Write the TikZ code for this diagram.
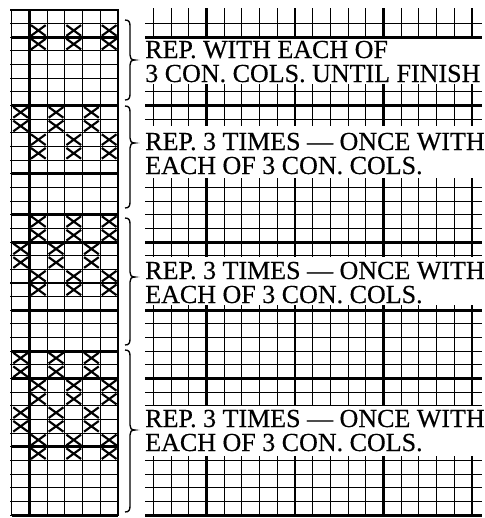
\documentclass[tikz,border=0pt]{standalone}
\usepackage{fontspec}
\setmainfont{Liberation Serif}
\newfontfamily\notefont{Liberation Serif}[FakeBold=0.4]
\usepackage{tikz}

\begin{document}
\begin{tikzpicture}[x=0.75pt, y=-0.75pt,
    gridline/.style={line width=0.8pt},
    boldline/.style={line width=2.2pt},
    xstitch/.style={line width=1.6pt},
    bracepath/.style={line width=1pt},
    chartnote/.style={anchor=base west, inner sep=0pt, font=\notefont\fontsize{19.5}{23}\selectfont}
]
    \useasboundingbox (0,0) rectangle (485,518);

    % Left chart
    \foreach \r in {0,...,37}
        \draw[gridline] (10,{10+13.65*\r}) -- (119,{10+13.65*\r});
    \foreach \c in {0,...,6}
        \draw[gridline] ({11.8+17.7*\c},10) -- ({11.8+17.7*\c},515);
    \foreach \r in {2,7,12,15,17,22,25,27,32,37}
        \draw[boldline] (11.8,{10+13.65*\r}) -- (118,{10+13.65*\r});
    \foreach \c in {1,6}
        \draw[boldline] ({11.8+17.7*\c},10) -- ({11.8+17.7*\c},515);

    % Stitches
    \foreach \r/\p in {1/1, 7/0, 9/1, 15/1, 17/0, 19/1, 25/0, 27/1, 29/0, 31/1}
        \foreach \dr in {0,1}
            \foreach \dc in {0,2,4}
                \draw[xstitch] ({13.3+17.7*(\p+\dc)},{11.5+13.65*(\r+\dr)}) -- ++(14.7,10.65)
                    ++(0,-10.65) -- ++(-14.7,10.65);

    % Right grid
    \foreach \r in {1,...,37}
        \draw[gridline] (145,{10+13.65*\r}) -- (482,{10+13.65*\r});
    \foreach \c in {8,...,26}
        \draw[gridline] ({11.8+17.7*\c},8) -- ({11.8+17.7*\c},515);
    \foreach \r in {2,7,12,17,22,27,32,37}
        \draw[boldline] (145,{10+13.65*\r}) -- (482,{10+13.65*\r});
    \foreach \c in {11,16,21,26}
        \draw[boldline] ({11.8+17.7*\c},8) -- ({11.8+17.7*\c},515);

    % Text panels
    \foreach \t/\b in {39/84, 126/178, 257/305, 406/456}
        \fill[white] (140,\t) rectangle (485,\b);

    % Braces
    \foreach \t/\m/\b in {20/60/100, 106/143/208, 218/277/345, 350/430/512}
        \draw[bracepath] (125,\t) .. controls (129,\t) and (130,{\t+2}) .. (130,{\t+6})
            -- (130,{\m-5}) .. controls (130,{\m-2}) and (131,\m) .. (135,\m)
            .. controls (131,\m) and (130,{\m+2}) .. (130,{\m+5})
            -- (130,{\b-6}) .. controls (130,{\b-2}) and (129,\b) .. (125,\b);

    % Notes
    \node[chartnote] (noteAa) at (145,58) {REP. WITH EACH OF};
    \node[chartnote] (noteAb) at (145,82) {3 CON. COLS. UNTIL FINISH};
    \node[chartnote] (noteBa) at (145,150) {REP. 3 TIMES — ONCE WITH};
    \node[chartnote] (noteBb) at (145,174) {EACH OF 3 CON. COLS.};
    \node[chartnote] (noteCa) at (145,279) {REP. 3 TIMES — ONCE WITH};
    \node[chartnote] (noteCb) at (145,303) {EACH OF 3 CON. COLS.};
    \node[chartnote] (noteDa) at (145,427) {REP. 3 TIMES — ONCE WITH};
    \node[chartnote] (noteDb) at (145,451) {EACH OF 3 CON. COLS.};
\end{tikzpicture}
\end{document}
